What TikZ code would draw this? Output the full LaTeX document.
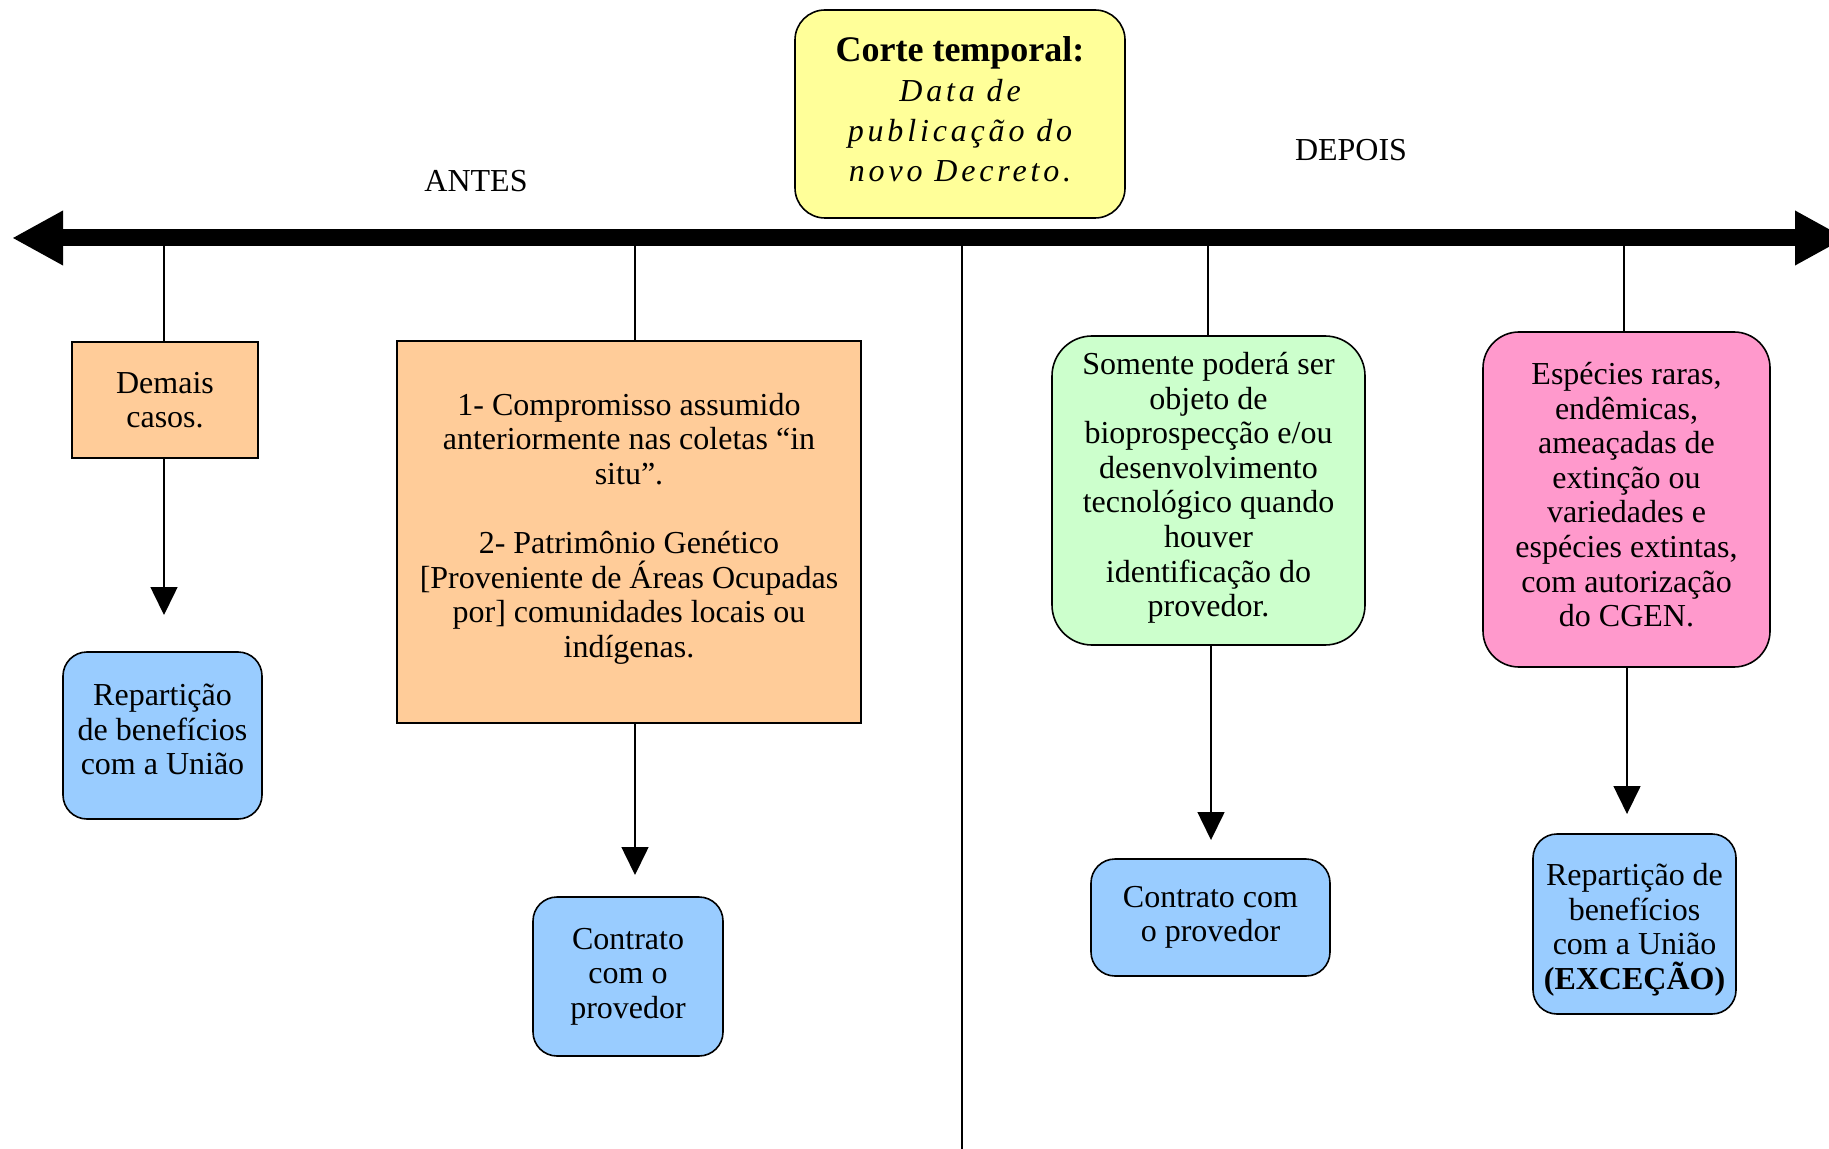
\documentclass[tikz,border=0pt]{standalone}
\usepackage{fontspec}
\setmainfont{Liberation Serif}
\usetikzlibrary{arrows.meta,calc}
\definecolor{corange}{HTML}{FFCC99}
\definecolor{cblue}{HTML}{99CCFF}
\definecolor{cgreen}{HTML}{CCFFCC}
\definecolor{cpink}{HTML}{FF99CC}
\definecolor{cyellow}{HTML}{FFFF99}
\tikzset{
  txt/.style={font=\fontsize{16}{17.3}\selectfont, align=center, inner sep=0pt},
  sqbox/.style={txt, draw=black, line width=1.1pt, fill=corange},
  rbox/.style={txt, draw=black, line width=0.8pt, rounded corners=#1},
  bluebox/.style={rbox=12pt, fill=cblue},
  link/.style={draw=black, line width=0.8pt},
  arr/.style={link, -{Triangle[length=14pt,width=13.5pt]}},
  axis/.style={line width=8.5pt, {Triangle[length=25.5pt,width=25.5pt]}-{Triangle[length=25.5pt,width=25.5pt]}}
}
\begin{document}
\begin{tikzpicture}[x=0.5pt,y=-0.5pt]
\useasboundingbox[fill=white] (0,0) rectangle (1829,1149);
% axis
\coordinate (L) at (12,238);
\coordinate (R) at (1846,238);
\draw[axis] (L) -- (R);
\coordinate (a1) at (164,238);
\coordinate (a2) at (635,238);
\coordinate (a3) at (1208,238);
\coordinate (a4) at (1624,238);
\coordinate (mid) at (962,238);
\coordinate (midb) at (962,1149);
\draw[link] (mid) -- (midb);
% top box and labels
\node[rbox=15pt, fill=cyellow, minimum width=165pt, minimum height=104pt, text depth=4.5pt,
      font=\fontsize{16}{20}\selectfont] (corte) at (960,114)
  {{\fontsize{18}{20}\selectfont\bfseries Corte temporal:}\\
   {\itshape\addfontfeature{LetterSpace=12}Data de}\\
   {\itshape\addfontfeature{LetterSpace=12}publicação do}\\
   {\itshape\addfontfeature{LetterSpace=12}novo Decreto.}};
\node[txt] (antes) at (476,181) {ANTES};
\node[txt] (depois) at (1351,150) {DEPOIS};
% left column
\node[sqbox, minimum width=93pt, minimum height=58pt] (demais) at (165,400) {Demais\\casos.};
\node[bluebox, minimum width=99.5pt, minimum height=83.5pt, text depth=6pt] (rep1) at (162.5,735.5)
  {Repartição\\de benefícios\\com a União};
\coordinate (t1) at (164,615);
\draw[link] (a1) -- (a1 |- demais.north);
\draw[arr] (demais.south -| t1) -- (t1);
% second column
\node[sqbox, minimum width=232pt, minimum height=191pt, text depth=7pt] (big) at (629,532)
  {1- Compromisso assumido\\anteriormente nas coletas “in\\situ”.\\[17.3pt]
   2- Patrimônio Genético\\{[}Proveniente de Áreas Ocupadas\\por{]} comunidades locais ou\\indígenas.};
\node[bluebox, minimum width=95pt, minimum height=79.5pt] (con1) at (628,976.5)
  {Contrato\\com o\\provedor};
\coordinate (t2) at (635,875);
\draw[link] (a2) -- (a2 |- big.north);
\draw[arr] (big.south -| t2) -- (t2);
% third column
\node[rbox=20pt, fill=cgreen, minimum width=156.5pt, minimum height=154.5pt, text depth=6pt] (green) at (1208.5,490.5)
  {Somente poderá ser\\objeto de\\bioprospecção e/ou\\desenvolvimento\\tecnológico quando\\houver\\identificação do\\provedor.};
\node[bluebox, minimum width=119.5pt, minimum height=58.5pt] (con2) at (1210.5,917.5)
  {Contrato com\\o provedor};
\coordinate (t3) at (1211,840);
\draw[link] (a3) -- (a3 |- green.north);
\draw[arr] (green.south -| t3) -- (t3);
% fourth column
\node[rbox=18pt, fill=cpink, minimum width=143.5pt, minimum height=167.5pt, text depth=5pt] (pink) at (1626.5,499.5)
  {Espécies raras,\\endêmicas,\\ameaçadas de\\extinção ou\\variedades e\\espécies extintas,\\com autorização\\do CGEN.};
\node[bluebox, minimum width=101.5pt, minimum height=90pt] (rep2) at (1634.5,924)
  {\rule{0pt}{17pt}Repartição de\\benefícios\\com a União\\\textbf{(EXCEÇÃO)}};
\coordinate (t4) at (1627,814);
\draw[link] (a4) -- (a4 |- pink.north);
\draw[arr] (pink.south -| t4) -- (t4);
\end{tikzpicture}
\end{document}
